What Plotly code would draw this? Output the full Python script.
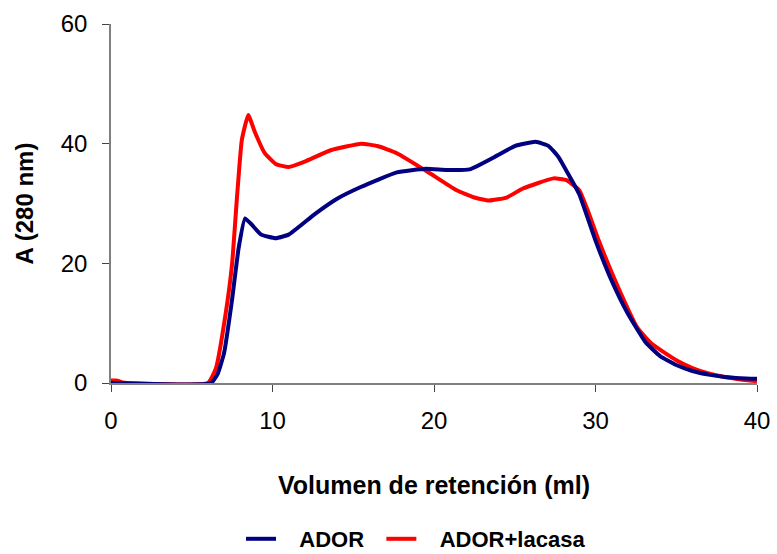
import plotly.graph_objects as go

ador_x = [0, 6.2, 6.6, 7.0, 7.5, 7.9, 8.3, 8.7, 9.3, 10.2, 11, 12.6, 14, 15.5, 17.7, 19.5, 20.8, 22.2, 23.9, 25, 26.3, 27.1, 27.7, 28.4, 29.0, 30.0, 31.0, 32.0, 33.1, 34, 35, 36, 37, 38, 39, 40]
ador_y = [0, 0, 1.5, 5, 14, 22.5, 27.5, 26.5, 24.8, 24.2, 24.8, 28.2, 30.8, 32.8, 35.2, 35.8, 35.6, 35.7, 38, 39.6, 40.3, 39.6, 37.8, 34.5, 31.5, 23.8, 17.1, 11.6, 6.8, 4.5, 3, 2, 1.4, 1, 0.8, 0.7]

lac_x = [0, 0.4, 0.7, 1.0, 6.0, 6.5, 7.1, 7.5, 7.8, 8.1, 8.5, 8.9, 9.5, 10.2, 11, 12, 13.6, 15.5, 16.5, 17.7, 19.6, 21.4, 22.5, 23.4, 24.5, 25.5, 27.4, 28.2, 29.0, 29.5, 30.2, 31.4, 32.6, 33.5, 35, 36, 37, 38, 39, 40]
lac_y = [0.4, 0.4, 0.1, 0, 0, 2.5, 11.6, 20, 31, 40.6, 44.8, 42, 38.5, 36.6, 36.1, 37, 38.9, 40, 39.6, 38.4, 35.3, 32.2, 31, 30.5, 31, 32.5, 34.2, 33.9, 32.2, 29, 23.8, 16, 9.2, 6.5, 3.8, 2.5, 1.6, 1, 0.6, 0.3]

x_ticks = [0, 10, 20, 30, 40]
y_ticks = [0, 20, 40, 60]

FONT = "Liberation Sans, Arial, sans-serif"
NB = "\u00a0"

fig = go.Figure()
fig.add_trace(go.Scatter(x=lac_x, y=lac_y, mode="lines", name=NB * 3 + "<b>ADOR+lacasa</b>",
                         line=dict(color="#FF0000", width=4, shape="spline", smoothing=0.4),
                         legendrank=2))
fig.add_trace(go.Scatter(x=ador_x, y=ador_y, mode="lines", name=NB * 3 + "<b>ADOR</b>" + NB * 2,
                         line=dict(color="#000080", width=4, shape="spline", smoothing=0.4),
                         legendrank=1))

fig.update_layout(
    width=777, height=554,
    margin=dict(l=111, r=20, t=24, b=171),
    paper_bgcolor="white", plot_bgcolor="white",
    font=dict(family=FONT, color="black"),
    showlegend=True,
    legend=dict(orientation="h", xref="container", yref="container",
                x=241 / 777, xanchor="left", y=1 - 539 / 554, yanchor="middle",
                font=dict(size=22, family=FONT)),
)
fig.update_xaxes(range=[0, 40], tickvals=x_ticks, ticks="outside", ticklen=7, tickcolor="#444444",
                 showline=True, linecolor="#808080", linewidth=1.5, showgrid=False, zeroline=False,
                 automargin=False, ticklabelstandoff=8,
                 tickfont=dict(size=24, family=FONT),
                 title=dict(text="<b>Volumen de retención (ml)</b>", font=dict(size=25, family=FONT), standoff=44))
fig.update_yaxes(range=[0, 60], tickvals=y_ticks, ticks="outside", ticklen=7, tickcolor="#444444",
                 showline=True, linecolor="#808080", linewidth=1.5, showgrid=False, zeroline=False,
                 automargin=False, ticklabelstandoff=10,
                 tickfont=dict(size=24, family=FONT),
                 title=dict(text="<b>A (280 nm)</b>", font=dict(size=24, family=FONT), standoff=20))

fig.write_html("out.html")
